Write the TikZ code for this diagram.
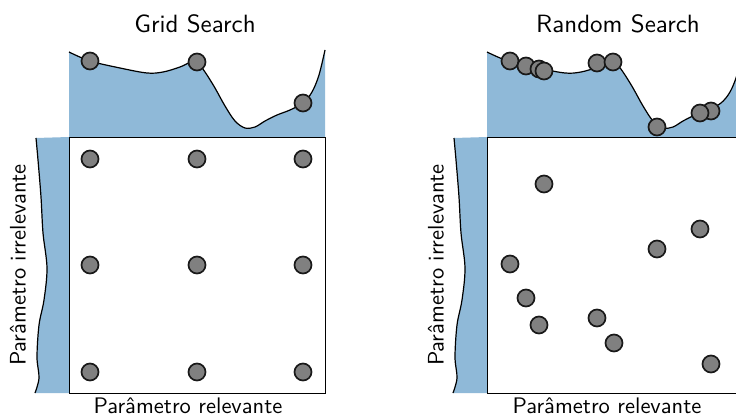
\documentclass[tikz,border=0pt]{standalone}
\usepackage{fontspec}
\newfontfamily\lmsten{lmsans10-regular.otf}
\definecolor{fillblue}{RGB}{143,185,216}
\definecolor{dotgray}{RGB}{128,128,128}
\definecolor{dotline}{RGB}{25,25,25}
\tikzset{
  dot/.style={circle, draw=dotline, line width=1.7pt, fill=dotgray, minimum size=17pt, inner sep=0pt},
  panel/.style={draw=black, line width=0.9pt},
  curve/.style={draw=black, line width=1.2pt},
  area/.style={fill=fillblue},
  title/.style={font=\lmsten\fontsize{25}{28}\selectfont, inner sep=0pt},
  axislabel/.style={font=\lmsten\fontsize{22.5}{25}\selectfont, inner sep=0pt},
}
\begin{document}
\begin{tikzpicture}[x=1pt,y=-1pt]
\useasboundingbox (0,0) rectangle (736,417);
\clip (0,0) rectangle (736,417);
\foreach \dx in {0,418}{
\begin{scope}[xshift=\dx pt]
  % top objective curve
  \fill[area] (69,137) -- plot[smooth, tension=0.55] coordinates {(69,52) (90,61) (120,68) (147,73) (163,72) (180,67) (191,62) (197,62) (205,72) (215,88) (225,106) (235,121) (245,128) (255,127) (265,121) (277,115) (290,110) (303,103) (312,92) (319,75) (325,50)} -- (325,137) -- cycle;
  \draw[curve] plot[smooth, tension=0.55] coordinates {(69,52) (90,61) (120,68) (147,73) (163,72) (180,67) (191,62) (197,62) (205,72) (215,88) (225,106) (235,121) (245,128) (255,127) (265,121) (277,115) (290,110) (303,103) (312,92) (319,75) (325,50)};
  % left irrelevant curve
  \fill[area] (69,137) -- plot[smooth, tension=0.55] coordinates {(36,138) (38,160) (41,197) (43,233) (47,268) (44,300) (39,325) (37,357) (39,378) (35,393)} -- (69,393) -- cycle;
  \draw[curve] plot[smooth, tension=0.55] coordinates {(36,138) (38,160) (41,197) (43,233) (47,268) (44,300) (39,325) (37,357) (39,378) (35,393)};
  % square
  \draw[panel] (69,137) rectangle (325,393);
\end{scope}
}
% Grid search
\node[title] (gt) at (195,24) {Grid Search};
\node[axislabel] (gx) at (188,406) {Parâmetro relevante};
\node[axislabel, rotate=90] (gy) at (18,265) {Parâmetro irrelevante};
\foreach \x in {90,197,303}{
  \foreach \y in {159,265,372}{
    \node[dot] (g\x-\y) at (\x,\y) {};
  }
}
\node[dot] (gtop1) at (90,61) {};
\node[dot] (gtop2) at (197,62) {};
\node[dot] (gtop3) at (303,103) {};
% Random search
\node[title] (rt) at (618,24) {Random Search};
\node[axislabel] (rx) at (607,406) {Parâmetro relevante};
\node[axislabel, rotate=90] (ry) at (436,265) {Parâmetro irrelevante};
\foreach \x/\y [count=\i] in {544/184,700/229,657/249,510/264,526/298,539/325,597/318,614/343,711/364}{
  \node[dot] (r\i) at (\x,\y) {};
}
\foreach \x/\y [count=\i] in {510/61,526/66,539/69,544/71,597/63,613/62,657/127,711/111,700/113}{
  \node[dot] (rtop\i) at (\x,\y) {};
}
\end{tikzpicture}
\end{document}
